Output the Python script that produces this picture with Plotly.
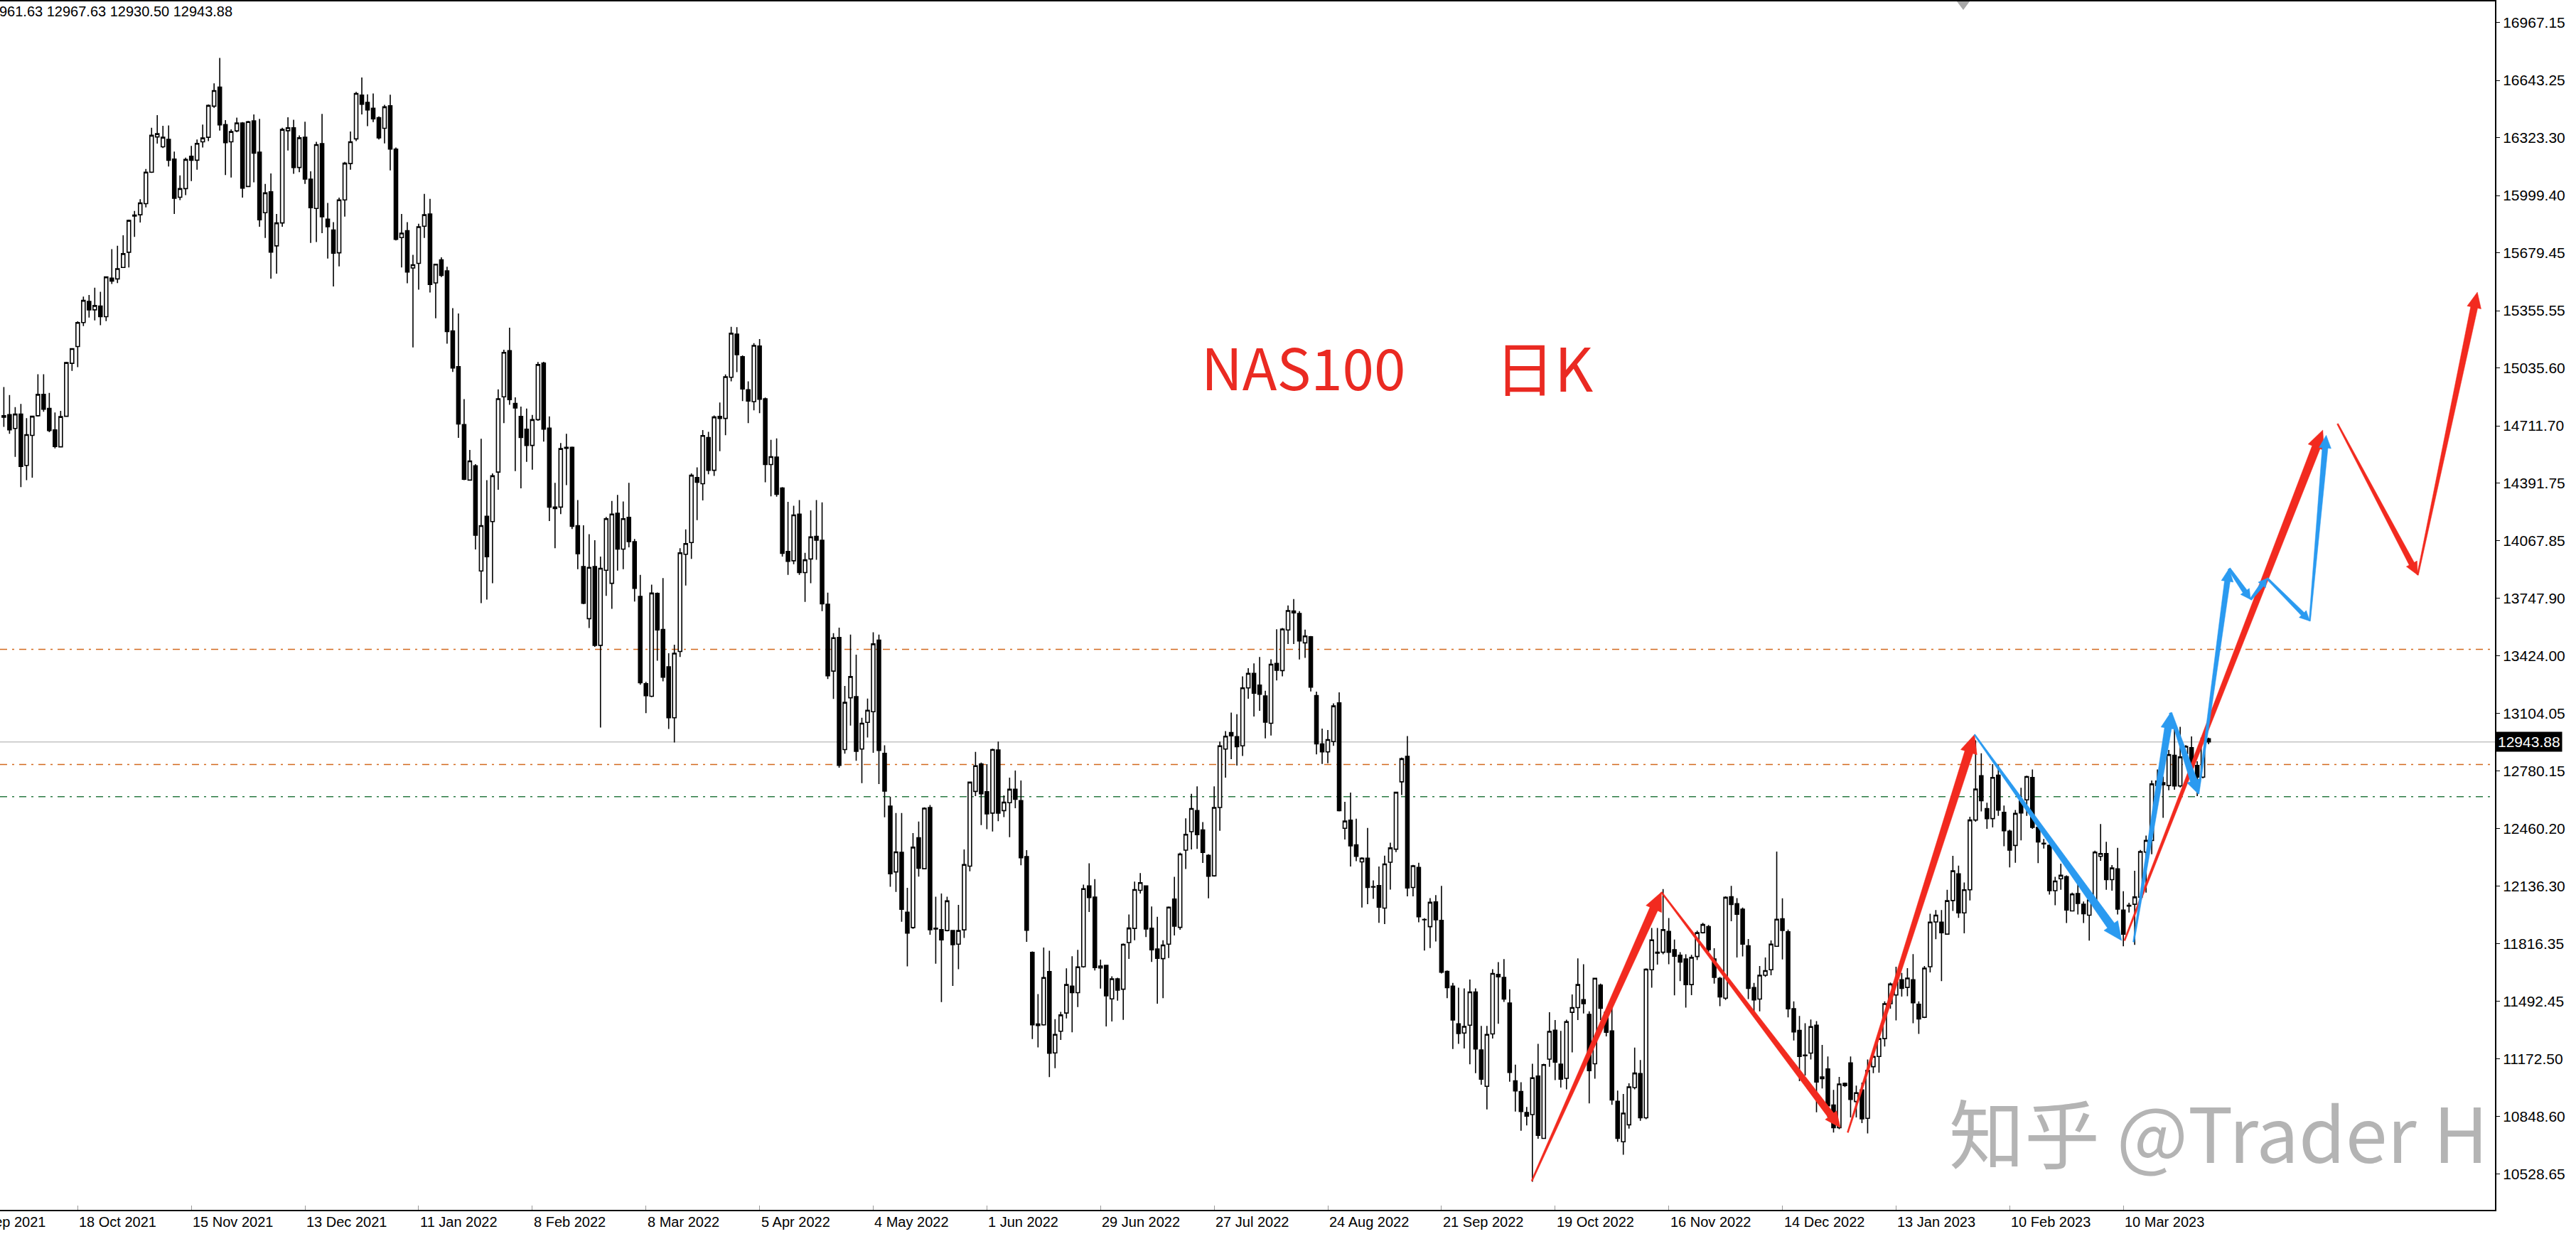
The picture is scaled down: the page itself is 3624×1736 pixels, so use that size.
import math
import plotly.graph_objects as go

# ---------------- data ----------------
opens = [
    14768, 14774, 14697, 14777, 14490, 14658, 14768, 14887, 14809, 14689,
    14594, 14765, 15061, 15155, 15289, 15407, 15360, 15381, 15322, 15537,
    15533, 15597, 15682, 15890, 15892, 15954, 16130, 16327, 16272, 16313,
    16203, 15990, 16038, 16219, 16197, 16300, 16325, 16499, 16606, 16396,
    16300, 16361, 16405, 16050, 16417, 16242, 15903, 16020, 15718, 15846,
    16362, 16378, 16156, 16325, 16091, 15927, 16290, 15867, 15807, 15679,
    15975, 16178, 16316, 16561, 16520, 16487, 16435, 16375, 16501, 16259,
    15764, 15803, 15594, 15620, 15828, 15896, 15511, 15640, 15578, 15242,
    15042, 14719, 14408, 14488, 13900, 14206, 14176, 14453, 14874, 15132,
    14837, 14764, 14693, 14602, 14746, 15062, 14699, 14257, 14257, 14591,
    14591, 14153, 13925, 13633, 13925, 13484, 13904, 13831, 14223, 14022,
    14200, 14064, 13758, 13270, 13199, 13774, 13573, 13364, 13079, 13450,
    13993, 14059, 14422, 14388, 14646, 14463, 14764, 14753, 14983, 15224,
    15098, 14913, 14847, 15158, 14863, 14495, 14537, 14364, 14009, 13957,
    14218, 13891, 13967, 14093, 14072, 13714, 13340, 13528, 12901, 13191,
    13197, 12904, 13053, 13113, 13513, 12880, 12585, 12217, 12327, 11992,
    11906, 12408, 12235, 12577, 11902, 11894, 11889, 11889, 11813, 11893,
    12249, 12667, 12820, 12665, 12546, 12899, 12560, 12604, 12679, 12616,
    12303, 11767, 11367, 11362, 11660, 11205, 11326, 11428, 11578, 11542,
    11687, 12139, 12076, 11680, 11695, 11507, 11619, 11561, 11822, 11901,
    12114, 12139, 11902, 11786, 11732, 11813, 12065, 11907, 12339, 12442,
    12560, 12452, 12310, 12195, 12577, 12904, 12996, 12974, 12922, 13246,
    13327, 13262, 13201, 13048, 13383, 13343, 13570, 13676, 13662, 13498,
    13532, 13203, 12933, 12888, 12946, 13162, 12461, 12506, 12368, 12273,
    12294, 12135, 12141, 12015, 12271, 12344, 12721, 12863, 12130, 12242,
    11951, 11911, 12049, 11946, 11661, 11578, 11368, 11316, 11360, 11546,
    11222, 11018, 11311, 11644, 11627, 11484, 11049, 10989, 10872, 10860,
    11075, 10727, 11170, 11332, 11142, 11063, 11432, 11458, 11503, 11420,
    11144, 11584, 11432, 11328, 10934, 10708, 10803, 11011, 11089, 10842,
    11670, 11763, 11768, 11884, 11782, 11751, 11730, 11587, 11744, 11877,
    11911, 11730, 11622, 11511, 12078, 12039, 12009, 11804, 11570, 11506,
    11639, 11670, 11801, 11955, 11882, 11452, 11331, 11193, 11204, 11360,
    11061, 11115, 10914, 10787, 11035, 11149, 10933, 10998, 10839, 11128,
    11185, 11285, 11480, 11529, 11614, 11571, 11614, 11477, 11404, 11687,
    11937, 11936, 11869, 12057, 12206, 11988, 12117, 12507, 12755, 12571,
    12515, 12758, 12550, 12445, 12365, 12615, 12620, 12745, 12466, 12377,
    12365, 12112, 12179, 12190, 11999, 12096, 12036, 11975, 12044, 12304,
    12320, 12174, 12234, 12004, 12030, 12036, 12076, 12328, 12393, 12725,
    12716, 12700, 12869, 12698, 12879, 12912, 12813, 12747, 12961.63,
]
highs = [
    14928, 14884, 14816, 14834, 14754, 14768, 15000, 15000, 14896, 14786,
    14795, 15070, 15145, 15296, 15434, 15443, 15484, 15461, 15546, 15700,
    15718, 15777, 15864, 15913, 15979, 16148, 16378, 16449, 16389, 16391,
    16245, 16112, 16211, 16277, 16313, 16396, 16508, 16627, 16769, 16421,
    16369, 16435, 16410, 16417, 16453, 16428, 16064, 16123, 15896, 16378,
    16437, 16423, 16336, 16412, 16135, 16300, 16456, 15958, 15851, 15988,
    16187, 16357, 16579, 16659, 16565, 16570, 16442, 16506, 16563, 16268,
    15896, 15851, 15668, 15842, 16009, 15981, 15615, 15654, 15601, 15370,
    15340, 14861, 14577, 14497, 14639, 14408, 14445, 14915, 15137, 15260,
    14871, 14819, 14808, 14772, 15069, 15070, 14764, 14393, 14615, 14667,
    14595, 14296, 14155, 14106, 14072, 13980, 14202, 14291, 14325, 14288,
    14393, 14079, 13878, 13280, 13823, 13780, 13860, 13440, 13487, 14027,
    14132, 14445, 14479, 14688, 14678, 14769, 14842, 14999, 15265, 15263,
    15105, 14960, 15174, 15197, 14870, 14633, 14641, 14369, 14286, 14265,
    14296, 14001, 14239, 14296, 14283, 13779, 13552, 13583, 13257, 13544,
    13432, 13079, 13186, 13557, 13544, 12925, 12638, 12546, 12546, 12128,
    12434, 12499, 12578, 12591, 12078, 12096, 12078, 11893, 12033, 12343,
    12722, 12888, 12829, 12820, 12906, 12946, 12645, 12744, 12784, 12728,
    12339, 11772, 11534, 11794, 11776, 11394, 11434, 11678, 11745, 11781,
    12146, 12265, 12177, 11727, 11698, 11633, 11625, 11817, 11979, 12163,
    12211, 12141, 12024, 11966, 11835, 12024, 12190, 12325, 12517, 12654,
    12695, 12496, 12316, 12695, 12946, 13005, 13108, 13099, 13311, 13356,
    13383, 13419, 13230, 13406, 13574, 13581, 13707, 13743, 13675, 13572,
    13536, 13225, 13018, 13010, 13160, 13221, 12609, 12661, 12515, 12299,
    12463, 12170, 12247, 12308, 12380, 12666, 12856, 12977, 12256, 12268,
    11958, 12070, 12087, 12139, 11666, 11596, 11570, 11566, 11615, 11566,
    11356, 11356, 11673, 11713, 11730, 11561, 11139, 11041, 10903, 11144,
    11256, 11144, 11432, 11389, 11328, 11391, 11532, 11734, 11701, 11437,
    11625, 11592, 11441, 11458, 10994, 10975, 11035, 11235, 11165, 11678,
    11903, 11903, 12121, 11959, 11839, 11768, 11756, 11753, 11889, 11932,
    11920, 11790, 11630, 12080, 12139, 12070, 12018, 11842, 11596, 11691,
    11739, 11834, 12331, 12069, 11895, 11493, 11412, 11371, 11392, 11383,
    11250, 11185, 10998, 11071, 11039, 11185, 11022, 11039, 11168, 11201,
    11306, 11493, 11598, 11687, 11652, 11679, 11757, 11493, 11691, 11983,
    12004, 12004, 12117, 12307, 12252, 12158, 12526, 12953, 12880, 12604,
    12820, 12815, 12588, 12453, 12563, 12688, 12755, 12790, 12474, 12401,
    12372, 12190, 12263, 12198, 12101, 12158, 12052, 12075, 12336, 12485,
    12385, 12255, 12352, 12109, 12045, 12223, 12340, 12420, 12728, 12790,
    12750, 12899, 13050, 13028, 12926, 12975, 12836, 12979, 12967.63,
]
lows = [
    14706, 14667, 14538, 14369, 14408, 14422, 14763, 14790, 14676, 14586,
    14591, 14763, 15019, 15040, 15269, 15317, 15301, 15274, 15297, 15505,
    15510, 15594, 15597, 15768, 15849, 15933, 16126, 16290, 16265, 16162,
    15896, 15974, 16002, 16080, 16144, 16268, 16304, 16490, 16362, 16114,
    16100, 16353, 15988, 16046, 16073, 15825, 15762, 15535, 15562, 15825,
    16251, 16121, 16130, 16064, 15734, 15739, 15789, 15647, 15491, 15603,
    15881, 16144, 16304, 16453, 16387, 16410, 16313, 16291, 16140, 15748,
    15597, 15509, 15150, 15473, 15762, 15457, 15313, 15544, 15171, 15013,
    14644, 14408, 14405, 14020, 13720, 13740, 13831, 14354, 14727, 14829,
    14458, 14362, 14510, 14466, 14740, 14623, 14179, 14027, 14218, 14380,
    14134, 13910, 13714, 13581, 13476, 13024, 13761, 13688, 13902, 13910,
    14032, 13729, 13264, 13105, 13194, 13398, 13283, 13016, 12941, 13419,
    13818, 13967, 14184, 14294, 14440, 14432, 14570, 14659, 14960, 15012,
    14850, 14727, 14798, 14782, 14396, 14317, 14315, 13980, 13878, 13938,
    13878, 13727, 13831, 13962, 13675, 13296, 13184, 12800, 12878, 13035,
    12839, 12713, 12969, 12883, 12708, 12523, 12134, 12105, 11938, 11689,
    11898, 12191, 12231, 11866, 11704, 11489, 11885, 11580, 11673, 11848,
    12220, 12641, 12479, 12456, 12443, 12501, 12524, 12411, 12573, 12254,
    11826, 11282, 11236, 11358, 11070, 11119, 11277, 11398, 11320, 11461,
    11682, 11993, 11666, 11565, 11353, 11381, 11497, 11390, 11731, 11835,
    12096, 11853, 11714, 11480, 11511, 11736, 11862, 11894, 12233, 12343,
    12346, 12267, 12069, 12191, 12447, 12744, 12848, 12812, 12865, 13185,
    13086, 13118, 12964, 12980, 13288, 13311, 13491, 13491, 13405, 13414,
    13226, 12874, 12821, 12825, 12922, 12555, 12398, 12247, 12277, 12018,
    12037, 12066, 11932, 11925, 12118, 12328, 12647, 12080, 12080, 11935,
    11777, 11791, 11828, 11649, 11511, 11227, 11256, 11230, 11141, 11092,
    11027, 10889, 11285, 11368, 11490, 11044, 10877, 10770, 10799, 10484,
    10725, 10725, 11127, 11053, 11011, 11001, 11208, 11389, 11425, 10923,
    11061, 11389, 11297, 10915, 10708, 10635, 10782, 11001, 10825, 10834,
    11570, 11699, 11756, 11701, 11527, 11606, 11458, 11528, 11725, 11873,
    11770, 11592, 11466, 11501, 11941, 11739, 11744, 11506, 11437, 11437,
    11630, 11639, 11798, 11728, 11404, 11274, 11047, 11079, 11168, 10873,
    11006, 10844, 10760, 10779, 11014, 10844, 10844, 10812, 10755, 11092,
    11095, 11241, 11452, 11387, 11520, 11522, 11371, 11311, 11400, 11655,
    11841, 11606, 11866, 11999, 11960, 11874, 12057, 12498, 12555, 12458,
    12466, 12531, 12361, 12242, 12268, 12393, 12531, 12458, 12266, 12348,
    12090, 12031, 12117, 11931, 11996, 11979, 11931, 11833, 12041, 12279,
    12117, 12112, 11979, 11801, 11990, 11809, 12060, 12101, 12316, 12600,
    12520, 12674, 12677, 12690, 12859, 12793, 12641, 12740, 12930.50,
]
closes = [
    14760, 14689, 14777, 14484, 14662, 14765, 14887, 14804, 14685, 14596,
    14763, 15065, 15143, 15289, 15413, 15360, 15384, 15322, 15544, 15521,
    15590, 15674, 15860, 15885, 15958, 16130, 16336, 16345, 16325, 16197,
    15984, 16038, 16201, 16197, 16291, 16321, 16503, 16586, 16394, 16295,
    16357, 16405, 16041, 16412, 16236, 15864, 16014, 15683, 15846, 16369,
    16378, 16156, 16322, 16091, 15931, 16284, 15881, 15825, 15677, 15975,
    16180, 16300, 16570, 16510, 16478, 16428, 16322, 16495, 16259, 15754,
    15789, 15572, 15612, 15825, 15892, 15502, 15615, 15553, 15239, 15035,
    14722, 14413, 14515, 14100, 14153, 13980, 14432, 14863, 15122, 14858,
    14811, 14646, 14602, 14746, 15054, 14693, 14257, 14249, 14584, 14586,
    14150, 13996, 13719, 13920, 13484, 13915, 14192, 14218, 14022, 14192,
    14064, 13803, 13275, 13202, 13776, 13570, 13306, 13079, 13440, 14001,
    14053, 14435, 14396, 14657, 14463, 14761, 14753, 14986, 15229, 15109,
    14918, 14850, 15161, 14860, 14495, 14539, 14328, 13998, 13954, 14213,
    13891, 13962, 14090, 14072, 13716, 13314, 13526, 12813, 13165, 13309,
    12891, 13048, 13121, 13492, 12896, 12669, 12207, 12329, 12008, 11875,
    12355, 12238, 12573, 11894, 11898, 11837, 12055, 11810, 11889, 12258,
    12719, 12811, 12654, 12542, 12901, 12546, 12607, 12679, 12623, 12296,
    11891, 11362, 11358, 11626, 11203, 11308, 11417, 11587, 11542, 11686,
    12123, 12074, 11682, 11691, 11524, 11619, 11556, 11812, 11903, 12118,
    12157, 11898, 11781, 11734, 11808, 12020, 11914, 12317, 12427, 12571,
    12425, 12326, 12193, 12577, 12922, 12976, 12978, 12917, 13246, 13327,
    13216, 13210, 13054, 13378, 13345, 13575, 13678, 13666, 13509, 13536,
    13250, 12933, 12888, 12957, 13145, 12560, 12501, 12363, 12304, 12294,
    12130, 12132, 12020, 12261, 12351, 12662, 12850, 12127, 12251, 11966,
    11949, 12047, 11949, 11656, 11570, 11389, 11313, 11353, 11546, 11227,
    11058, 11308, 11649, 11630, 11506, 11096, 10992, 10877, 10851, 11066,
    10744, 11139, 11325, 11153, 11058, 11380, 11458, 11587, 11480, 11106,
    11622, 11454, 11320, 10942, 10727, 10868, 11015, 11092, 10842, 11673,
    11837, 11768, 11894, 11768, 11746, 11713, 11587, 11739, 11877, 11923,
    11782, 11627, 11518, 12075, 12035, 11980, 11813, 11566, 11501, 11639,
    11665, 11813, 11952, 11890, 11452, 11322, 11185, 11189, 11352, 11042,
    11071, 10909, 10787, 11031, 11022, 10945, 10982, 10836, 11107, 11185,
    11285, 11480, 11590, 11601, 11566, 11623, 11485, 11395, 11679, 11936,
    11975, 11877, 12056, 12223, 11988, 12117, 12507, 12680, 12615, 12515,
    12745, 12563, 12447, 12339, 12544, 12547, 12750, 12466, 12385, 12374,
    12112, 12166, 12198, 12004, 12093, 12041, 11983, 12060, 12328, 12320,
    12174, 12239, 12009, 11869, 12026, 12077, 12331, 12393, 12709, 12700,
    12705, 12873, 12698, 12860, 12919, 12810, 12747, 12965, 12943.88,
]

date_labels = [
    "20 Sep 2021", "18 Oct 2021", "15 Nov 2021", "13 Dec 2021", "11 Jan 2022",
    "8 Feb 2022", "8 Mar 2022", "5 Apr 2022", "4 May 2022", "1 Jun 2022",
    "29 Jun 2022", "27 Jul 2022", "24 Aug 2022", "21 Sep 2022", "19 Oct 2022",
    "16 Nov 2022", "14 Dec 2022", "13 Jan 2023", "10 Feb 2023", "10 Mar 2023",
]
first_label_bar = -7
bars_per_label = 20

price_ticks = [16967.15, 16643.25, 16323.30, 15999.40, 15679.45, 15355.55,
               15035.60, 14711.70, 14391.75, 14067.85, 13747.90, 13424.00,
               13104.05, 12780.15, 12460.20, 12136.30, 11816.35, 11492.45,
               11172.50, 10848.60, 10528.65]

last_price = 12943.88
level_prices = [13462, 12818, 12638]
header_text = "961.63 12967.63 12930.50 12943.88"
title_left = "NAS100"
title_right = "日K"
watermark_text = "知乎 @Trader H"

# drawn arrows: tail (bar, price) -> head (bar, price)
arrow_tail_bar = [268.9, 291.7, 324.5, 346.8, 373.2, 374.8, 381.3, 386.2, 391.6, 395.4, 398.3, 405.8, 410.7, 424.8]
arrow_tail_price = [10489, 12104, 10760, 12985, 11833, 11825, 13107, 12653, 13913, 13740, 13859, 13620, 14723, 13877]
arrow_head_bar = [291.7, 323.2, 346.8, 372.7, 408.1, 381.3, 386.2, 391.6, 395.4, 398.3, 405.8, 408.7, 424.8, 435.3]
arrow_head_price = [12104, 10787, 12985, 11833, 14688, 13107, 12653, 13913, 13740, 13859, 13620, 14659, 13877, 15459]
arrow_kind = ["red", "red", "red", "blue", "red", "blue", "blue", "blue", "blue", "blue", "blue", "blue", "red", "red"]

# ---------------- styles / layout ----------------
FIG_W, FIG_H = 3624, 1736
M_L, M_R, M_T, M_B = 0, 114, 2, 34
PLOT_W = FIG_W - M_L - M_R
PLOT_H = FIG_H - M_T - M_B
X_RANGE = [-0.6755, 438.40]
Y_RANGE = [10327.4, 17084.8]
KX = PLOT_W / (X_RANGE[1] - X_RANGE[0])
KY = PLOT_H / (Y_RANGE[1] - Y_RANGE[0])

RED = "#f22a1f"
BLUE = "#2a9af0"
COLORS = {"red": RED, "blue": BLUE}
# (tail width, body width near head, head width, head length) in px
ARROW_STYLE = [
    (2, 12, 24, 26), (2, 10, 20, 22), (2, 12, 24, 26), (2, 12, 24, 26),
    (2, 12, 24, 26), (2, 10, 20, 22), (4, 10, 20, 20), (2, 8, 17, 18),
    (4, 7, 15, 14), (3, 6, 13, 12), (3, 6, 14, 14), (2, 8, 17, 18),
    (2, 8, 17, 18), (2, 10, 20, 22),
]

AXIS_FONT = "Liberation Sans, Arial, sans-serif"
DATE_FONT = "Liberation Sans, Arial, sans-serif"
CJK_FONT = "Noto Sans CJK SC, sans-serif"


def bar_to_paper(b):
    return (b - X_RANGE[0]) / (X_RANGE[1] - X_RANGE[0])


def arrow_polygon(x0, y0, x1, y1, w0, w1, hw, hl):
    X0, Y0, X1, Y1 = x0 * KX, y0 * KY, x1 * KX, y1 * KY
    dx, dy = X1 - X0, Y1 - Y0
    L = math.hypot(dx, dy)
    ux, uy = dx / L, dy / L
    nx, ny = -uy, ux
    bx, by = X1 - ux * hl, Y1 - uy * hl
    pts = [
        (X0 + nx * w0 / 2, Y0 + ny * w0 / 2),
        (bx + nx * w1 / 2, by + ny * w1 / 2),
        (bx + nx * hw / 2, by + ny * hw / 2),
        (X1, Y1),
        (bx - nx * hw / 2, by - ny * hw / 2),
        (bx - nx * w1 / 2, by - ny * w1 / 2),
        (X0 - nx * w0 / 2, Y0 - ny * w0 / 2),
    ]
    pts.append(pts[0])
    return [p[0] / KX for p in pts], [p[1] / KY for p in pts]


fig = go.Figure()

fig.add_trace(go.Candlestick(
    x=list(range(len(closes))), open=opens, high=highs, low=lows, close=closes,
    increasing=dict(line=dict(color="black", width=1.6), fillcolor="white"),
    decreasing=dict(line=dict(color="black", width=1.6), fillcolor="black"),
    whiskerwidth=0, showlegend=False, hoverinfo="skip",
))

for i in range(len(arrow_tail_bar)):
    w0, w1, hw, hl = ARROW_STYLE[i]
    xs, ys = arrow_polygon(arrow_tail_bar[i], arrow_tail_price[i],
                           arrow_head_bar[i], arrow_head_price[i], w0, w1, hw, hl)
    c = COLORS[arrow_kind[i]]
    fig.add_trace(go.Scatter(x=xs, y=ys, mode="lines", fill="toself",
                             fillcolor=c, line=dict(color=c, width=0.5),
                             showlegend=False, hoverinfo="skip"))

shapes = []
level_styles = [("#d2691e", "10px,7px,3px,7px"), ("#d2691e", "10px,7px,3px,7px"),
                ("#2b7a43", "10px,7px,3px,7px")]
for p, (col, dash) in zip(level_prices, level_styles):
    shapes.append(dict(type="line", xref="paper", x0=0, x1=1, yref="y", y0=p, y1=p,
                       line=dict(color=col, width=1.5, dash=dash), layer="below"))
shapes.append(dict(type="line", xref="paper", x0=0, x1=1, yref="y", y0=last_price,
                   y1=last_price, line=dict(color="#c4c4c4", width=1.5), layer="below"))
# chart-shift marker at the top border
tri_x = 2762 / PLOT_W
tri_half = 9 / PLOT_W
tri_h = 12 / PLOT_H
shapes.append(dict(type="path", xref="paper", yref="paper",
                   path=f"M {tri_x - tri_half} 1 L {tri_x + tri_half} 1 L {tri_x} {1 - tri_h} Z",
                   fillcolor="#a8a8a8", line=dict(width=0)))

annotations = []
for i, lab in enumerate(date_labels):
    b = first_label_bar + bars_per_label * i
    annotations.append(dict(text=lab, xref="paper", yref="paper", x=bar_to_paper(b), y=0,
                            xanchor="left", yanchor="middle", yshift=-17, showarrow=False,
                            font=dict(family=DATE_FONT, size=20, color="black")))
annotations.append(dict(text=header_text, xref="paper", yref="paper", x=0,
                        y=1 - 14 / PLOT_H, xanchor="left", yanchor="middle", xshift=-3,
                        showarrow=False, font=dict(family=AXIS_FONT, size=20, color="black")))
annotations.append(dict(text=title_left, xref="paper", yref="paper", x=1833 / PLOT_W,
                        y=(PLOT_H - 512) / PLOT_H, xanchor="center", yanchor="middle",
                        showarrow=False, font=dict(family=CJK_FONT, size=80, color="#ea2a22")))
annotations.append(dict(text=title_right, xref="paper", yref="paper", x=2172 / PLOT_W,
                        y=(PLOT_H - 512) / PLOT_H, xanchor="center", yanchor="middle",
                        showarrow=False, font=dict(family=CJK_FONT, size=84, color="#ea2a22")))
annotations.append(dict(text=watermark_text, xref="paper", yref="paper", x=2740 / PLOT_W,
                        y=(PLOT_H - 1588) / PLOT_H, xanchor="left", yanchor="middle",
                        showarrow=False, font=dict(family=CJK_FONT, size=106, color="#b4b4b4")))
annotations.append(dict(text=f"{last_price:.2f}", xref="paper", yref="y", x=1, y=last_price,
                        xanchor="left", yanchor="middle", xshift=1, showarrow=False,
                        bgcolor="black", borderpad=2,
                        font=dict(family=AXIS_FONT, size=21, color="white")))

tick_bars = [first_label_bar + bars_per_label * i for i in range(len(date_labels))]

fig.update_layout(
    width=FIG_W, height=FIG_H,
    margin=dict(l=M_L, r=M_R, t=M_T, b=M_B, autoexpand=False),
    paper_bgcolor="white", plot_bgcolor="white",
    boxgap=0.38, boxgroupgap=0,
    showlegend=False,
    shapes=shapes, annotations=annotations,
    xaxis=dict(range=X_RANGE, showgrid=False, zeroline=False, showline=True, mirror=True,
               linecolor="black", linewidth=2, tickvals=tick_bars, ticks="inside",
               ticklen=6, tickcolor="#9a9a9a", showticklabels=False,
               rangeslider=dict(visible=False), fixedrange=True),
    yaxis=dict(range=Y_RANGE, side="right", showgrid=False, zeroline=False, showline=True,
               linecolor="black", linewidth=2, tickvals=price_ticks,
               ticktext=[f"{v:.2f}" for v in price_ticks], ticks="outside", ticklen=5,
               tickcolor="black", tickfont=dict(family=AXIS_FONT, size=21, color="black"),
               fixedrange=True),
)

fig.write_html("out.html", config={"displayModeBar": False},
               post_script="document.body.style.margin='0px';document.body.style.overflow='hidden';")
